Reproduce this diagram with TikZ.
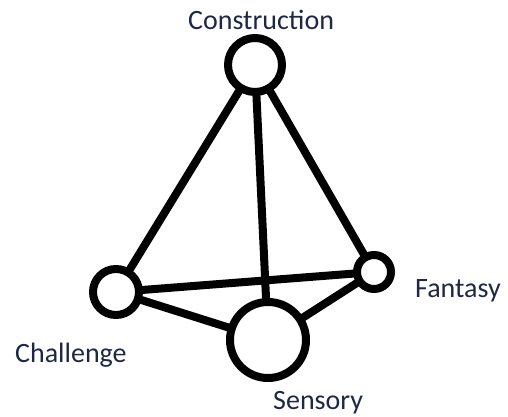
\documentclass[tikz,border=0pt]{standalone}
\usepackage{fontspec}
\setmainfont{Carlito}
\usepackage{xcolor}
\usepackage{tikz}
\definecolor{labelblue}{RGB}{30,40,70}
\tikzset{
  ring/.style={draw=black, line width=8pt, circle, inner sep=0pt},
  leg/.style={line width=8pt, line cap=round},
  tag/.style={anchor=base west, inner sep=0pt, text=labelblue, font=\fontsize{28}{30}\selectfont}
}

\begin{document}
\begin{tikzpicture}[x=1pt, y=-1pt]
  \useasboundingbox (0,0) rectangle (508,417);
  \node[ring, minimum size=54pt] (constr) at (255,65) {};
  \node[ring, minimum size=46pt] (chall) at (116,292) {};
  \node[ring, minimum size=34pt] (fant) at (374,272) {};
  \node[ring, minimum size=76pt] (sens) at (268,340) {};
  \draw[leg] (constr) -- (chall);
  \draw[leg] (constr) -- (sens);
  \draw[leg] (constr) -- (fant);
  \draw[leg] (chall) -- (fant);
  \draw[leg] (chall) -- (sens);
  \draw[leg] (sens) -- (fant);
  \node[tag] (constrlabel) at (188,30) {Construction};
  \node[tag] (challlabel) at (15,362) {Challenge};
  \node[tag] (fantlabel) at (415,297) {Fantasy};
  \node[tag] (senslabel) at (273,409) {Sensory};
\end{tikzpicture}
\end{document}
